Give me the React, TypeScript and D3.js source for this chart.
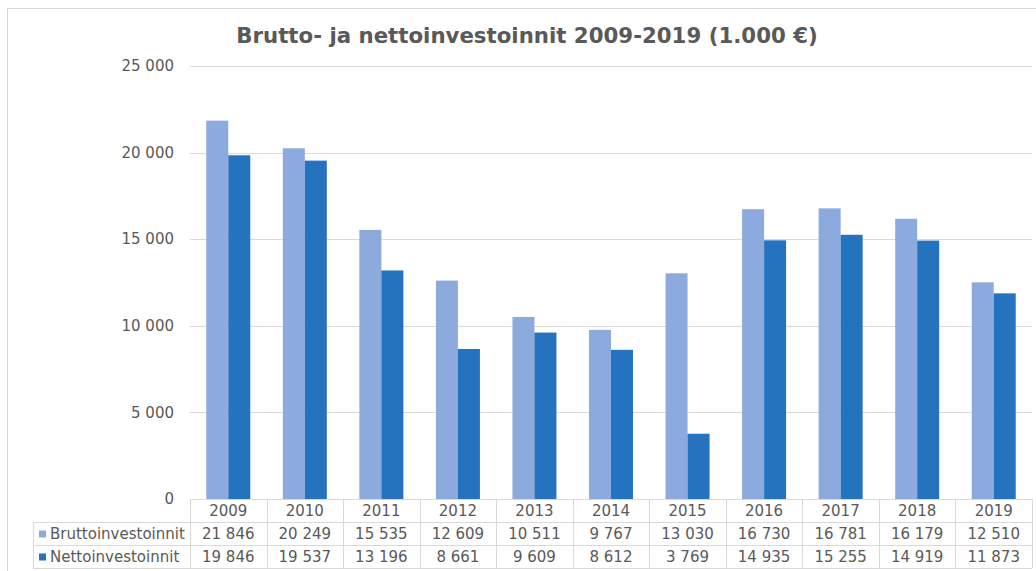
import React from "react";
import * as d3 from "d3";

const years = ["2009","2010","2011","2012","2013","2014","2015","2016","2017","2018","2019"];
const brutto = [21846, 20249, 15535, 12609, 10511, 9767, 13030, 16730, 16781, 16179, 12510];
const netto = [19846, 19537, 13196, 8661, 9609, 8612, 3769, 14935, 15255, 14919, 11873];
const seriesNames = ["Bruttoinvestoinnit", "Nettoinvestoinnit"];
const yTicks = [0, 5000, 10000, 15000, 20000, 25000];
const title = "Brutto- ja nettoinvestoinnit 2009-2019 (1.000 €)";

const W = 1036, H = 571;
const colors = ["#8DAADF", "#2572BE"];
const textColor = "#595959";
const gridColor = "#D9D9D9";
const font = "'DejaVu Sans', Verdana, sans-serif";

const fmt = (v: number) => d3.format(",")(v).replace(/,/g, " ");

export default function App() {
  const plotL = 190, plotR = 1032, plotT = 66, plotB = 499;
  const rowH = 23;
  const legendL = 33;
  const x = d3.scaleBand<string>().domain(years).range([plotL, plotR]).paddingInner(0).paddingOuter(0);
  const step = x.bandwidth();
  const barW = 22;
  const pOuter = (step / barW - 2) / 2;
  const xi = d3.scaleBand<number>().domain([0, 1]).range([0, step]).paddingInner(0).paddingOuter(pOuter);
  const y = d3.scaleLinear().domain([0, 25000]).range([plotB, plotT]);
  const data = [brutto, netto];
  const rowsY = [plotB, plotB + rowH, plotB + 2 * rowH, plotB + 3 * rowH];

  return (
    <svg width={W} height={H} style={{ display: "block", position: "absolute", left: 0, top: 0 }} fontFamily={font}>
      <rect x={0} y={0} width={W} height={H} fill="#fff" />
      <rect x={7.5} y={8.5} width={W + 10} height={H + 10} fill="#fff" stroke={gridColor} />
      <text x={527} y={43} textAnchor="middle" fontWeight="bold" fontSize={21.3} fill={textColor}>{title}</text>
      {yTicks.map((t) => (
        <g key={t}>
          {t > 0 && <line x1={plotL} x2={plotR} y1={Math.round(y(t)) + 0.5} y2={Math.round(y(t)) + 0.5} stroke={gridColor} />}
          <text x={174} y={y(t)} dy="0.35em" textAnchor="end" fontSize={15} fill={textColor}>{fmt(t)}</text>
        </g>
      ))}
      {data.map((vals, si) =>
        vals.map((v, i) => (
          <rect key={si + "-" + i} x={(x(years[i]) as number) + (xi(si) as number)} y={y(v)} width={xi.bandwidth()} height={y(0) - y(v)} fill={colors[si]} />
        ))
      )}
      <line x1={plotL} x2={plotR} y1={rowsY[0] + 0.5} y2={rowsY[0] + 0.5} stroke={gridColor} />
      {[1, 2, 3].map((r) => (
        <line key={r} x1={legendL} x2={plotR} y1={rowsY[r] + 0.5} y2={rowsY[r] + 0.5} stroke={gridColor} />
      ))}
      <line x1={legendL + 0.5} x2={legendL + 0.5} y1={rowsY[1]} y2={rowsY[3]} stroke={gridColor} />
      {years.map((yr) => (
        <line key={"v" + yr} x1={Math.round(x(yr) as number) + 0.5} x2={Math.round(x(yr) as number) + 0.5} y1={rowsY[0]} y2={rowsY[3]} stroke={gridColor} />
      ))}
      <line x1={plotR + 0.5} x2={plotR + 0.5} y1={rowsY[0]} y2={rowsY[3]} stroke={gridColor} />
      {years.map((yr) => (
        <text key={"t" + yr} x={(x(yr) as number) + step / 2} y={(rowsY[0] + rowsY[1]) / 2} dy="0.36em" textAnchor="middle" fontSize={15} fill={textColor}>{yr}</text>
      ))}
      {data.map((vals, si) => (
        <g key={"row" + si}>
          <rect x={39} y={(rowsY[si + 1] + rowsY[si + 2]) / 2 - 3} width={7} height={7} fill={colors[si]} />
          <text x={50} y={(rowsY[si + 1] + rowsY[si + 2]) / 2} dy="0.36em" fontSize={15} fill={textColor}>{seriesNames[si]}</text>
          {vals.map((v, i) => (
            <text key={i} x={(x(years[i]) as number) + step / 2} y={(rowsY[si + 1] + rowsY[si + 2]) / 2} dy="0.36em" textAnchor="middle" fontSize={15} fill={textColor}>{fmt(v)}</text>
          ))}
        </g>
      ))}
    </svg>
  );
}
